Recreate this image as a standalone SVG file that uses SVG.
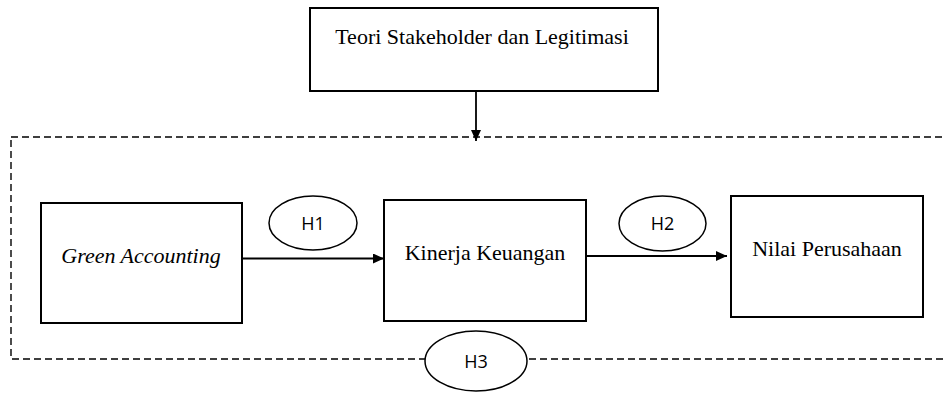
<svg xmlns="http://www.w3.org/2000/svg" width="946" height="394" viewBox="0 0 946 394">
<style>
.box{fill:#fff;stroke:#000;stroke-width:2}
.ell{fill:#fff;stroke:#000;stroke-width:1.5}
.t{font-family:"Liberation Serif","Times New Roman",serif;font-size:22px;fill:#000;text-anchor:middle}
.h{font-family:"Open Sans","Noto Sans",sans-serif;font-size:18px;fill:#000;text-anchor:middle}
.conn{stroke:#000;stroke-width:1.8;fill:none}
</style>
<defs>
<marker id="ah" viewBox="0 0 11 10" refX="11" refY="5" markerWidth="11" markerHeight="10" markerUnits="userSpaceOnUse" orient="auto">
<path d="M0,0 L11,5 L0,10 Z" fill="#000"/>
</marker>
</defs>
<rect x="11" y="137" width="960" height="222" fill="none" stroke="#000" stroke-width="1.4" stroke-dasharray="7,4"/>
<g id="connectors">
<line class="conn" x1="476" y1="91" x2="476" y2="141" marker-end="url(#ah)"/>
<line class="conn" x1="242" y1="258.5" x2="384" y2="258.5" marker-end="url(#ah)"/>
<line class="conn" x1="586" y1="256" x2="727" y2="256" marker-end="url(#ah)"/>
</g>
<g id="teori">
<rect class="box" x="310" y="8" width="348" height="83"/>
<text class="t" x="482" y="44">Teori Stakeholder dan Legitimasi</text>
</g>
<g id="green">
<rect class="box" x="41" y="203" width="201" height="120"/>
<text class="t" x="141" y="263" font-style="italic">Green Accounting</text>
</g>
<g id="kinerja">
<rect class="box" x="384" y="200" width="202" height="121"/>
<text class="t" x="485" y="260">Kinerja Keuangan</text>
</g>
<g id="nilai">
<rect class="box" x="731" y="196" width="192" height="121"/>
<text class="t" x="827" y="256">Nilai Perusahaan</text>
</g>
<g id="h1">
<ellipse class="ell" cx="313" cy="223" rx="44" ry="27"/>
<text class="h" x="313" y="230">H1</text>
</g>
<g id="h2">
<ellipse class="ell" cx="662.5" cy="223.5" rx="43.5" ry="27.5"/>
<text class="h" x="662.5" y="230">H2</text>
</g>
<g id="h3">
<ellipse class="ell" cx="476" cy="361" rx="51" ry="30"/>
<text class="h" x="476" y="368">H3</text>
</g>
</svg>
